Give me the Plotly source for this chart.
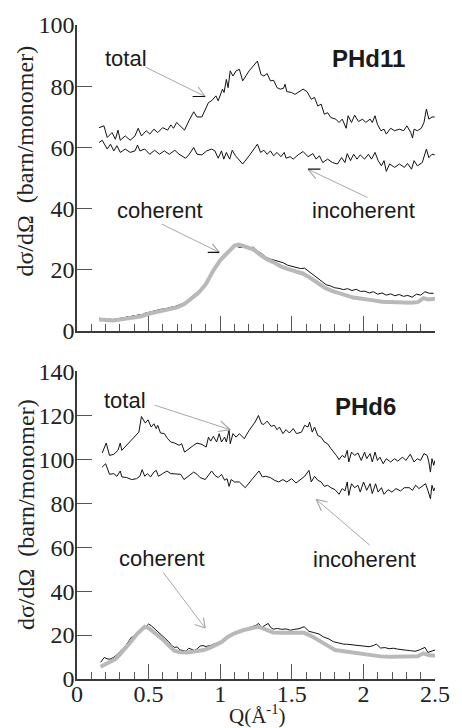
import plotly.graph_objects as go

# ---------------- PHd11 (top panel) ----------------
q_tot11 = [0.154,0.188,0.211,0.245,0.268,0.286,0.302,0.337,0.371,0.405,0.427,0.450,0.484,0.508,0.537,0.564,0.598,0.633,0.655,0.674,0.696,0.724,0.751,0.781,0.815,0.838,0.872,0.918,0.940,0.970,0.986,1.016,1.027,1.043,1.055,1.070,1.089,1.111,1.134,1.157,1.202,1.260,1.285,1.305,1.328,1.351,1.373,1.397,1.419,1.442,1.453,1.465,1.499,1.522,1.556,1.579,1.606,1.636,1.659,1.681,1.705,1.727,1.750,1.773,1.807,1.830,1.852,1.880,1.893,1.917,1.939,1.966,1.994,2.016,2.047,2.062,2.081,2.098,2.122,2.144,2.160,2.190,2.218,2.252,2.281,2.304,2.331,2.343,2.354,2.377,2.404,2.423,2.440,2.457,2.479,2.498]
v_tot11 = [66.4,67.0,63.2,64.8,62.6,65.6,62.3,63.7,62.3,63.7,66.2,63.7,65.4,64.3,65.9,64.8,66.4,65.6,67.3,66.2,68.1,66.7,65.6,68.6,71.6,69.9,69.9,74.6,75.2,76.8,75.2,79.0,77.9,82.2,79.5,85.0,83.3,85.0,85.5,81.7,85.0,88.2,83.8,83.3,84.1,81.7,81.9,79.5,79.0,79.3,80.6,78.2,77.9,77.3,78.4,79.0,78.2,75.7,76.3,73.5,74.1,70.8,71.3,69.7,69.2,68.1,69.2,66.2,70.3,68.1,70.5,68.4,69.2,68.1,69.2,68.1,70.3,67.5,65.4,65.9,64.3,66.2,65.4,65.9,65.4,67.0,64.8,63.0,65.9,65.4,66.2,68.1,72.5,69.2,69.9,69.9]

q_inc11 = [0.154,0.176,0.211,0.234,0.257,0.279,0.302,0.337,0.371,0.405,0.423,0.439,0.473,0.508,0.542,0.576,0.610,0.644,0.683,0.713,0.758,0.781,0.815,0.838,0.872,0.906,0.940,0.963,0.986,1.009,1.025,1.043,1.066,1.084,1.107,1.134,1.157,1.202,1.260,1.282,1.305,1.328,1.351,1.373,1.397,1.424,1.447,1.460,1.488,1.510,1.544,1.579,1.613,1.647,1.670,1.693,1.716,1.750,1.784,1.818,1.848,1.871,1.887,1.910,1.932,1.955,1.978,2.008,2.035,2.057,2.081,2.103,2.126,2.144,2.160,2.183,2.218,2.252,2.286,2.308,2.336,2.354,2.377,2.411,2.440,2.457,2.479,2.498]
v_inc11 = [61.5,62.3,59.4,61.0,58.8,60.5,58.3,59.4,58.3,58.8,60.7,58.8,59.4,57.7,59.0,57.7,58.8,57.7,59.0,57.7,56.4,57.5,59.9,57.7,57.5,58.8,59.4,58.8,56.4,58.8,56.1,58.3,56.1,59.0,57.2,55.6,54.5,57.2,61.0,58.3,59.0,57.7,58.8,57.2,58.3,56.9,58.3,56.4,56.9,56.1,57.5,58.6,56.9,57.9,56.1,57.2,55.0,56.1,55.0,54.5,56.6,55.0,57.9,55.6,57.7,56.1,57.5,56.1,57.7,56.1,58.3,55.6,53.9,55.6,52.1,54.5,53.4,54.5,53.4,54.7,52.8,55.6,53.9,55.0,59.4,56.6,57.7,57.5]

q_coh11 = [0.154,0.17,0.19,0.21,0.23,0.25,0.27,0.29,0.31,0.33,0.35,0.37,0.39,0.41,0.43,0.45,0.47,0.50,0.53,0.56,0.59,0.62,0.65,0.68,0.71,0.74,0.77,0.80,0.84,0.87,0.90,0.93,0.96,0.99,1.02,1.05,1.08,1.11,1.14,1.17,1.20,1.23,1.26,1.29,1.32,1.35,1.38,1.41,1.44,1.47,1.50,1.53,1.56,1.59,1.62,1.65,1.68,1.71,1.74,1.77,1.80,1.83,1.86,1.89,1.92,1.95,1.98,2.01,2.04,2.07,2.10,2.13,2.16,2.19,2.22,2.25,2.28,2.31,2.34,2.37,2.40,2.43,2.46,2.49]
v_coh11 = [4.1,3.6,4.0,3.4,3.8,3.5,3.9,3.6,4.2,4.0,4.6,4.3,4.9,4.7,5.2,5.0,5.6,6.0,6.3,6.6,7.0,7.1,7.6,7.8,8.4,8.9,9.8,11.0,12.3,13.8,15.5,17.5,20.3,22.8,24.6,25.8,27.0,27.6,27.2,27.4,27.0,27.3,26.0,25.2,24.0,23.4,23.0,22.5,22.2,21.4,21.0,20.6,20.3,20.4,19.3,18.2,17.0,15.9,15.0,14.6,14.0,13.8,13.4,13.7,13.1,13.5,12.8,12.9,12.3,12.7,11.9,12.3,11.6,12.0,11.4,11.8,11.2,11.5,10.9,11.9,11.6,12.7,12.2,12.2]

q_fit11 = [0.154,0.2,0.25,0.3,0.35,0.4,0.45,0.5,0.55,0.6,0.65,0.7,0.75,0.8,0.85,0.9,0.95,1.0,1.05,1.1,1.13,1.18,1.23,1.28,1.33,1.38,1.43,1.48,1.53,1.58,1.63,1.68,1.73,1.78,1.83,1.88,1.93,1.98,2.03,2.08,2.13,2.18,2.23,2.28,2.33,2.38,2.42,2.45,2.5]
v_fit11 = [3.6,3.4,3.3,3.6,4.0,4.5,4.7,5.5,6.1,6.5,7.0,7.6,8.7,10.5,12.4,15.2,19.5,23.0,25.5,27.8,28.1,27.4,26.6,24.8,23.2,22.2,20.8,20.0,19.4,18.6,17.2,15.6,14.0,13.0,12.2,11.3,10.8,10.5,10.3,9.8,9.4,9.3,9.5,9.3,9.1,9.3,10.6,10.2,10.4]

# ---------------- PHd6 (bottom panel) ----------------
q_tot6 = [0.176,0.204,0.227,0.257,0.286,0.302,0.313,0.347,0.382,0.416,0.432,0.450,0.477,0.496,0.518,0.537,0.553,0.564,0.583,0.610,0.633,0.655,0.683,0.713,0.731,0.751,0.781,0.815,0.838,0.872,0.902,0.918,0.934,0.952,0.975,0.993,1.009,1.031,1.043,1.062,1.070,1.089,1.111,1.134,1.168,1.202,1.244,1.267,1.289,1.305,1.328,1.356,1.378,1.397,1.414,1.438,1.460,1.483,1.510,1.533,1.568,1.590,1.613,1.624,1.643,1.659,1.681,1.705,1.727,1.750,1.773,1.795,1.811,1.830,1.852,1.871,1.887,1.898,1.917,1.939,1.962,1.985,2.008,2.023,2.047,2.062,2.081,2.098,2.115,2.138,2.160,2.190,2.218,2.240,2.274,2.297,2.327,2.354,2.377,2.399,2.423,2.445,2.457,2.468,2.479,2.491,2.500]
v_tot6 = [102.9,107.4,101.8,102.3,104.1,107.4,104.1,106.4,108.6,110.9,112.4,119.5,116.5,118.0,114.7,116.2,114.0,115.5,112.0,111.7,109.4,107.9,107.4,106.4,107.1,103.3,104.9,106.4,107.4,106.8,105.6,110.1,108.3,110.5,107.9,111.7,107.9,110.1,107.9,113.5,107.1,111.7,110.1,111.7,109.4,113.2,117.0,120.0,116.2,115.9,117.4,115.0,115.5,113.5,114.7,111.7,113.5,112.0,114.0,111.7,112.4,115.5,114.7,117.0,112.4,114.7,110.9,110.1,107.9,107.1,104.9,103.3,101.8,99.9,101.8,100.8,104.1,98.8,103.3,101.8,102.9,99.5,103.3,100.3,102.6,98.8,103.3,99.5,101.0,98.0,100.3,98.8,100.3,99.2,101.0,99.5,102.3,98.8,100.3,99.5,102.6,101.8,98.8,94.2,100.3,97.3,99.5]

q_inc6 = [0.176,0.200,0.227,0.257,0.279,0.302,0.313,0.347,0.382,0.416,0.439,0.455,0.473,0.491,0.514,0.537,0.553,0.569,0.598,0.628,0.655,0.690,0.724,0.747,0.781,0.815,0.838,0.860,0.895,0.918,0.940,0.963,0.986,1.009,1.031,1.048,1.062,1.077,1.100,1.134,1.175,1.226,1.271,1.294,1.317,1.351,1.378,1.408,1.438,1.465,1.499,1.529,1.556,1.590,1.620,1.636,1.659,1.681,1.705,1.727,1.750,1.773,1.802,1.830,1.852,1.871,1.887,1.898,1.917,1.939,1.962,1.978,2.001,2.023,2.047,2.062,2.085,2.103,2.126,2.144,2.172,2.199,2.228,2.259,2.286,2.320,2.343,2.365,2.388,2.411,2.434,2.450,2.468,2.479,2.491,2.500]
v_inc6 = [96.5,98.0,93.2,93.5,92.3,94.7,92.0,91.7,90.8,91.2,92.3,95.3,92.3,93.5,92.0,94.2,95.0,92.3,93.5,94.7,93.5,93.5,93.2,90.8,92.3,94.2,93.2,91.7,90.8,92.7,94.7,92.7,91.7,93.2,90.5,91.2,87.7,90.8,89.7,89.7,87.1,91.2,94.7,92.0,92.3,91.7,90.5,89.7,90.8,89.7,91.2,89.2,90.5,92.3,95.0,89.7,92.3,90.5,89.7,87.7,88.2,87.1,86.2,84.1,86.7,85.6,89.7,83.6,88.9,87.1,88.2,85.1,89.7,85.9,88.9,84.4,88.9,85.1,87.1,84.1,86.2,85.1,86.7,85.6,87.1,87.1,85.9,88.2,86.7,87.7,88.9,85.9,82.1,88.2,85.6,87.1]

q_coh6 = [0.165,0.19,0.21,0.23,0.257,0.28,0.30,0.32,0.34,0.36,0.38,0.40,0.42,0.44,0.46,0.48,0.50,0.52,0.54,0.56,0.58,0.60,0.62,0.64,0.66,0.68,0.70,0.72,0.74,0.76,0.78,0.80,0.82,0.84,0.86,0.88,0.90,0.93,0.96,0.99,1.02,1.05,1.08,1.11,1.14,1.17,1.20,1.23,1.25,1.267,1.29,1.31,1.335,1.35,1.37,1.40,1.43,1.46,1.49,1.52,1.55,1.586,1.62,1.65,1.69,1.72,1.76,1.79,1.83,1.86,1.89,1.92,1.95,1.98,2.01,2.04,2.07,2.09,2.12,2.15,2.18,2.21,2.24,2.27,2.30,2.33,2.36,2.39,2.43,2.45,2.48,2.50]
v_coh6 = [7.6,9.8,9.2,9.0,9.9,11.0,12.5,13.6,15.2,17.0,19.0,19.6,21.0,22.4,23.5,23.8,25.0,24.2,23.0,22.0,21.0,19.8,18.2,17.0,15.3,14.4,14.6,13.2,13.0,12.6,14.0,13.6,13.0,13.8,15.0,15.2,14.8,15.2,15.9,16.7,17.6,19.5,20.4,21.2,22.0,22.7,23.2,24.0,24.4,25.3,23.5,24.2,25.3,23.6,22.7,23.0,22.6,22.8,22.2,22.6,22.9,23.8,21.7,21.2,20.5,19.2,18.2,17.0,16.2,15.9,15.8,15.6,15.4,15.0,15.1,14.7,15.2,15.9,14.1,14.3,13.8,14.0,13.6,13.5,13.1,12.9,12.6,13.2,14.4,12.1,12.8,13.2]

q_fit6 = [0.165,0.2,0.23,0.268,0.3,0.34,0.382,0.42,0.45,0.473,0.50,0.518,0.55,0.58,0.61,0.64,0.679,0.72,0.77,0.83,0.884,0.93,0.975,1.01,1.05,1.1,1.164,1.22,1.267,1.32,1.369,1.44,1.506,1.586,1.64,1.688,1.75,1.802,1.86,1.917,1.98,2.053,2.12,2.19,2.26,2.327,2.38,2.418,2.46,2.5]
v_fit6 = [5.6,6.8,8.0,9.1,11.2,14.0,17.4,20.6,22.8,23.8,23.2,22.3,20.6,19.0,17.4,15.3,12.9,12.2,12.1,12.6,13.2,14.3,15.6,16.8,19.0,20.8,22.3,23.2,23.8,22.5,21.2,21.0,20.8,21.0,19.4,17.4,15.2,13.2,12.6,12.1,11.3,10.6,10.3,10.1,10.3,10.6,10.4,11.7,10.8,10.6]

x_ticks = [0, 0.5, 1, 1.5, 2, 2.5]
x_ticklabels = ["0", "0.5", "1", "1.5", "2", "2.5"]
y_range11 = [0, 100]
y_range6 = [0, 140]

SERIF = "Liberation Serif"
SANS = "Liberation Sans"
AX = "#3a3a3a"
ARROW = "#a8a8a8"
FIT = "#b9b9b9"

fig = go.Figure()

def add_panel(xa, ya, qt, vt, qi, vi, qc, vc, qf, vf):
    for q, v in [(qt, vt), (qi, vi), (qc, vc)]:
        fig.add_trace(go.Scatter(x=q, y=v, mode="lines", xaxis=xa, yaxis=ya,
                                 line=dict(color="#111111", width=1), showlegend=False,
                                 hoverinfo="skip"))
    fig.add_trace(go.Scatter(x=qf, y=vf, mode="lines", xaxis=xa, yaxis=ya,
                             line=dict(color=FIT, width=4), showlegend=False,
                             hoverinfo="skip"))

add_panel("x", "y", q_tot11, v_tot11, q_inc11, v_inc11, q_coh11, v_coh11, q_fit11, v_fit11)
add_panel("x2", "y2", q_tot6, v_tot6, q_inc6, v_inc6, q_coh6, v_coh6, q_fit6, v_fit6)

def xaxis(labels, anchor):
    return dict(domain=[0, 1], range=[0, 2.5], anchor=anchor, showgrid=False, zeroline=False,
                showline=True, linecolor=AX, linewidth=1.5,
                ticks="inside", ticklen=15, tickwidth=1.3, tickcolor="#555",
                tickvals=x_ticks, ticktext=x_ticklabels, showticklabels=labels,
                ticklabelstandoff=-8,
                tickfont=dict(family=SERIF, size=24, color="#222"),
                minor=dict(dtick=0.1, tick0=0, ticks="inside", ticklen=7, tickwidth=1.1, tickcolor="#555"))

def yaxis(domain, rng, anchor):
    return dict(domain=domain, range=rng, anchor=anchor, showgrid=False, zeroline=False,
                showline=True, linecolor=AX, linewidth=1.5,
                ticks="inside", ticklen=15, tickwidth=1.3, tickcolor="#555", dtick=20,
                ticklabelstandoff=-4,
                tickfont=dict(family=SERIF, size=24, color="#222"))

fig.update_layout(
    width=462, height=728,
    margin=dict(l=77, r=18, t=24, b=49),
    paper_bgcolor="white", plot_bgcolor="white",
    xaxis=xaxis(False, "y"),
    yaxis=yaxis([0.5328, 1.0], y_range11, "x"),
    xaxis2=xaxis(True, "y2"),
    yaxis2=yaxis([0.0, 0.4702], y_range6, "x2"),
)

ann = []

def label(xr, yr, x, y, text, size=22, bold=False):
    t = "<b>%s</b>" % text if bold else text
    ann.append(dict(xref=xr, yref=yr, x=x, y=y, text=t, showarrow=False,
                    xanchor="center", yanchor="middle",
                    font=dict(family=SANS, size=size, color="#1a1a1a")))

def arrow(xr, yr, x, y, ax, ay, barbs):
    ann.append(dict(xref=xr, yref=yr, x=x, y=y, ax=ax, ay=ay, text="", showarrow=True,
                    arrowhead=0, arrowwidth=1, arrowcolor=ARROW, standoff=0, startstandoff=0))
    for bx, by, col in barbs:
        ann.append(dict(xref=xr, yref=yr, x=x, y=y, ax=bx, ay=by, text="", showarrow=True,
                        arrowhead=0, arrowwidth=1.2, arrowcolor=col, standoff=0, startstandoff=0))

# top panel labels
label("x", "y", 0.345, 89.2, "total")
label("x", "y", 2.035, 89.2, "PHd11", size=24, bold=True)
label("x", "y", 0.578, 39.4, "coherent")
label("x", "y", 2.0, 39.4, "incoherent")
arrow("x", "y", 0.895, 76.6, -61, -30, [(-8, -11, ARROW), (-14, 0, "#111")])
arrow("x", "y", 1.613, 52.8, 61, 29, [(9, 11, ARROW), (14, 0, "#111")])
arrow("x", "y", 0.993, 25.6, -59, -29, [(-8, -10, ARROW), (-13, 0, "#111")])

# bottom panel labels
label("x2", "y2", 0.335, 126.8, "total")
label("x2", "y2", 2.014, 124.1, "PHd6", size=24, bold=True)
label("x2", "y2", 0.595, 54.7, "coherent")
label("x2", "y2", 2.007, 54.5, "incoherent")
arrow("x2", "y2", 1.070, 113.5, -77, -25, [(-11, -10, ARROW), (-14, 2, ARROW)])
arrow("x2", "y2", 1.670, 81.8, 55, 47, [(13, 3, ARROW), (6, 13, ARROW)])
arrow("x2", "y2", 0.895, 23.2, -43, -57, [(-2, -12, ARROW), (-12, -4, ARROW)])

# axis titles
ytitle = "d\u03c3/d\u03a9  (barn/monomer)"
for yc in [0.7916, 0.2511]:
    ann.append(dict(xref="paper", yref="paper", x=-0.1444, y=yc, text=ytitle, textangle=-90,
                    showarrow=False, xanchor="center", yanchor="middle",
                    font=dict(family=SERIF, size=24, color="#222")))
ann.append(dict(xref="paper", yref="paper", x=0.504, y=-0.031, text="Q(\u00c5<sup>-1</sup>)",
                showarrow=False, xanchor="center", yanchor="top",
                font=dict(family=SERIF, size=21, color="#222")))

fig.update_layout(annotations=ann)
fig.write_html("out.html")
